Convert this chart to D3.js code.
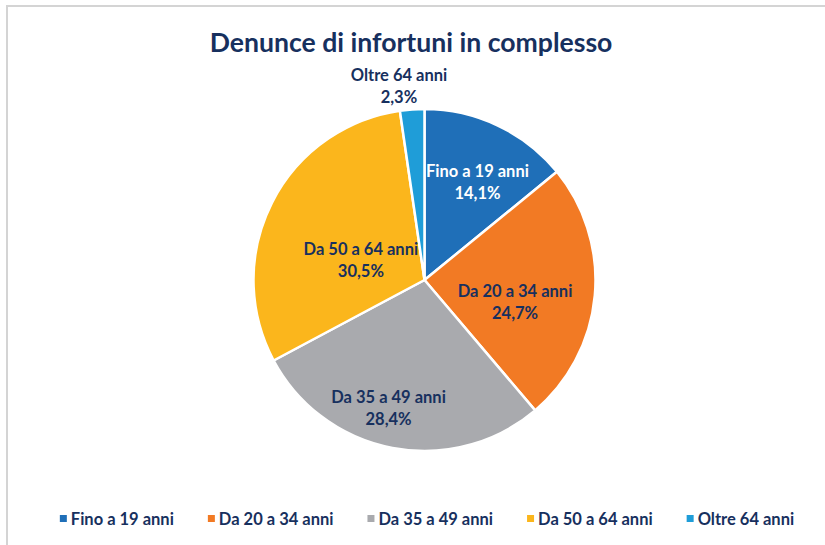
<!DOCTYPE html>
<html>
<head>
<meta charset="utf-8">
<script src="https://cdn.jsdelivr.net/npm/d3@7"></script>
<style>
  body { margin: 0; background: #fff; }
  svg { display: block; font-family: Lato, "Open Sans", sans-serif; }
</style>
</head>
<body>
<div id="chart"></div>
<script>
const title = "Denunce di infortuni in complesso";
const categories = ["Fino a 19 anni", "Da 20 a 34 anni", "Da 35 a 49 anni", "Da 50 a 64 anni", "Oltre 64 anni"];
const values = [14.1, 24.7, 28.4, 30.5, 2.3];
const colors = ["#1f6fb8", "#f27a24", "#a9aaae", "#fbb61c", "#1f9dd8"];
const labelColors = ["#ffffff", "#17305e", "#17305e", "#17305e", "#17305e"];

const W = 825, H = 545;
const cx = 424.5, cy = 280, R = 171;
const navy = "#17305e";

const svg = d3.select("#chart").append("svg")
    .attr("width", W)
    .attr("height", H);

// chart frame (only top and left edges visible)
svg.append("path")
    .attr("d", `M7,${H} V6 H${W}`)
    .attr("fill", "none")
    .attr("stroke", "#d4d4d4")
    .attr("stroke-width", 2);

svg.append("text")
    .attr("x", 411)
    .attr("y", 52)
    .attr("text-anchor", "middle")
    .attr("fill", navy)
    .style("font-size", "26.6px")
    .style("font-weight", 700)
    .text(title);

const data = categories.map((c, i) => ({ name: c, value: values[i], color: colors[i], tc: labelColors[i] }));

const pie = d3.pie().sort(null).value(d => d.value);
const arc = d3.arc().innerRadius(0).outerRadius(R);
const arcs = pie(data);

const g = svg.append("g").attr("transform", `translate(${cx},${cy})`);

g.selectAll("path")
    .data(arcs)
    .enter().append("path")
    .attr("d", arc)
    .attr("fill", d => d.data.color)
    .attr("stroke", "#fff")
    .attr("stroke-width", 2.5)
    .attr("stroke-linejoin", "round");

// label placement: polar position relative to center (deg from 12 o'clock, radius)
const labelAt = [[28.2, 112], [103.1, 93], [195.8, 132], [288.3, 67], [-7.45, 197]];

const labels = g.selectAll("text.lbl")
    .data(arcs)
    .enter().append("text")
    .classed("lbl", true)
    .attr("text-anchor", "middle")
    .attr("fill", d => d.data.tc)
    .style("font-size", "16.5px")
    .style("font-weight", 700)
    .attr("transform", (d, i) => {
        const a = labelAt[i][0] * Math.PI / 180, r = labelAt[i][1];
        return `translate(${r * Math.sin(a)},${-r * Math.cos(a)})`;
    });

labels.append("tspan")
    .attr("x", 0)
    .attr("y", -4)
    .text(d => d.data.name);
labels.append("tspan")
    .attr("x", 0)
    .attr("y", 18)
    .text(d => d3.format(".1f")(d.data.value).replace(".", ",") + "%");

// legend
const legend = svg.append("g").attr("transform", "translate(0,519)");
const items = legend.selectAll("g")
    .data(data)
    .enter().append("g");

items.append("rect")
    .attr("y", -4)
    .attr("width", 7)
    .attr("height", 7)
    .attr("fill", d => d.color);

items.append("text")
    .attr("x", 11)
    .attr("y", 6)
    .attr("fill", navy)
    .style("font-size", "16.5px")
    .style("font-weight", 700)
    .text(d => d.name);

let x = 0;
const gap = 34;
const widths = [];
items.each(function () {
    widths.push(this.getBBox().width);
});
const total = d3.sum(widths) + gap * (widths.length - 1);
x = 427 - total / 2;
items.attr("transform", (d, i) => {
    const t = `translate(${x},0)`;
    x += widths[i] + gap;
    return t;
});
</script>
</body>
</html>
